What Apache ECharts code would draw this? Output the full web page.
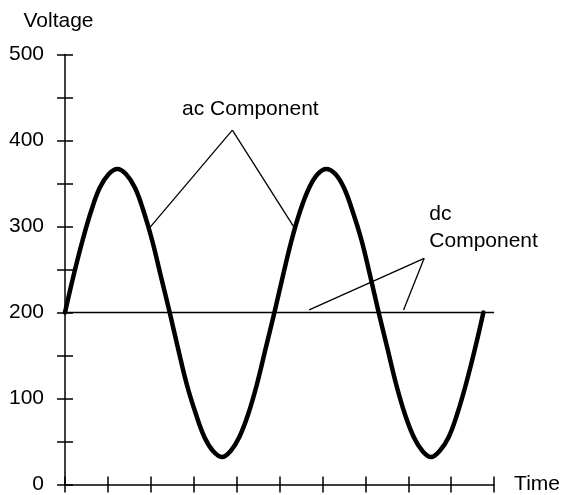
<!DOCTYPE html>
<html>
<head>
<meta charset="utf-8">
<script src="https://cdn.jsdelivr.net/npm/echarts@6/dist/echarts.min.js"></script>
<style>
html,body{margin:0;padding:0;background:#fff;}
#c{width:563px;height:495px;}
</style>
</head>
<body>
<div id="c"></div>
<script>
// ---- data ----
var timeValues = [0, 0.20, 0.41, 0.61, 0.81, 1.02, 1.22, 1.42, 1.63, 1.83, 2.03, 2.23, 2.44, 2.64, 2.84, 3.05, 3.25,
                  3.45, 3.66, 3.86, 4.06, 4.27, 4.47, 4.67, 4.88, 5.08, 5.28, 5.48, 5.69, 5.89, 6.09, 6.30, 6.50,
                  6.70, 6.91, 7.11, 7.31, 7.52, 7.72, 7.92, 8.13, 8.33, 8.53, 8.73, 8.94, 9.14, 9.34, 9.55, 9.75];
var acVoltage = [200, 243, 284, 318, 345, 361, 367, 361, 345, 318, 284, 243, 200, 157, 116, 82, 55,
                 39, 32, 39, 55, 82, 116, 157, 200, 243, 284, 318, 345, 361, 367, 361, 345,
                 318, 284, 243, 200, 157, 116, 82, 55, 39, 32, 39, 55, 82, 116, 157, 200];
var dcTime = [0, 10];
var dcVoltage = [200, 200];
var yTickLabels = [0, 100, 200, 300, 400, 500];

// annotations (data coordinates)
var acLabel = {text: 'ac Component', at: [4.32, 436]};
var acLeaders = [[[3.90, 412], [1.98, 299]], [[3.90, 412], [5.34, 299]]];
var dcLabel = {text: 'dc\nComponent', at: [8.49, 299]};
var dcLeaders = [[[8.37, 263], [5.69, 203]], [[8.37, 263], [7.89, 203]]];

var FONT = "'Liberation Sans', Arial, Helvetica, sans-serif";
var chart = echarts.init(document.getElementById('c'), null, {renderer: 'canvas'});

function zip(a, b) { return a.map(function (v, i) { return [v, b[i]]; }); }
function leaders(list) {
  return list.map(function (seg) { return [{coord: seg[0]}, {coord: seg[1]}]; });
}

var axisLineStyle = {color: '#000', width: 1.5};
var option = {
  animation: false,
  backgroundColor: '#fff',
  grid: {left: 65, right: 66, top: 54.5, bottom: 8, containLabel: false},
  xAxis: [
    {type: 'value', min: 0, max: 10, interval: 1, position: 'bottom',
     name: 'Time', nameLocation: 'end', nameGap: 20,
     nameTextStyle: {fontFamily: FONT, fontSize: 21, color: '#000', align: 'left', verticalAlign: 'middle'},
     axisLine: {show: true, lineStyle: axisLineStyle},
     axisTick: {show: true, inside: false, length: 8, lineStyle: axisLineStyle},
     axisLabel: {show: false}, splitLine: {show: false}},
    {type: 'value', min: 0, max: 10, interval: 1, position: 'bottom',
     axisLine: {show: false},
     axisTick: {show: true, inside: true, length: 8, lineStyle: axisLineStyle},
     axisLabel: {show: false}, splitLine: {show: false}}
  ],
  yAxis: [
    {type: 'value', min: 0, max: 500, interval: 50, position: 'left',
     name: 'Voltage', nameLocation: 'end', nameGap: 23,
     nameTextStyle: {fontFamily: FONT, fontSize: 21, color: '#000', align: 'center', padding: [0, 13, 0, 0]},
     axisLine: {show: true, lineStyle: axisLineStyle},
     axisTick: {show: true, inside: false, length: 8, lineStyle: axisLineStyle},
     axisLabel: {show: true, margin: 21, fontFamily: FONT, fontSize: 21, color: '#000',
       formatter: function (v) { return yTickLabels.indexOf(v) >= 0 ? String(v) : ''; }},
     splitLine: {show: false}},
    {type: 'value', min: 0, max: 500, interval: 50, position: 'left',
     axisLine: {show: false},
     axisTick: {show: true, inside: true, length: 8, lineStyle: axisLineStyle},
     axisLabel: {show: false}, splitLine: {show: false}}
  ],
  series: [
    {type: 'line', name: 'dc', data: zip(dcTime, dcVoltage), showSymbol: false, symbol: 'none',
     lineStyle: {color: '#000', width: 1.5}, silent: true, z: 2,
     markLine: {silent: true, symbol: 'none', label: {show: false},
       lineStyle: {color: '#000', width: 1.3, type: 'solid'},
       data: leaders(acLeaders).concat(leaders(dcLeaders))}},
    {type: 'line', name: 'ac', data: zip(timeValues, acVoltage), smooth: 0.4, showSymbol: false, symbol: 'none',
     lineStyle: {color: '#000', width: 4.5, cap: 'round', join: 'round'}, silent: true, z: 3}
  ]
};
chart.setOption(option);

var p1 = chart.convertToPixel({gridIndex: 0}, acLabel.at);
var p2 = chart.convertToPixel({gridIndex: 0}, dcLabel.at);
chart.setOption({
  graphic: [
    {type: 'text', x: p1[0], y: p1[1], silent: true,
     style: {text: acLabel.text, font: '21px ' + FONT, fill: '#000', align: 'center', verticalAlign: 'middle'}},
    {type: 'text', x: p2[0], y: p2[1], silent: true,
     style: {text: dcLabel.text, font: '21px ' + FONT, fill: '#000', align: 'left', verticalAlign: 'middle', lineHeight: 27}}
  ]
});
</script>
</body>
</html>
